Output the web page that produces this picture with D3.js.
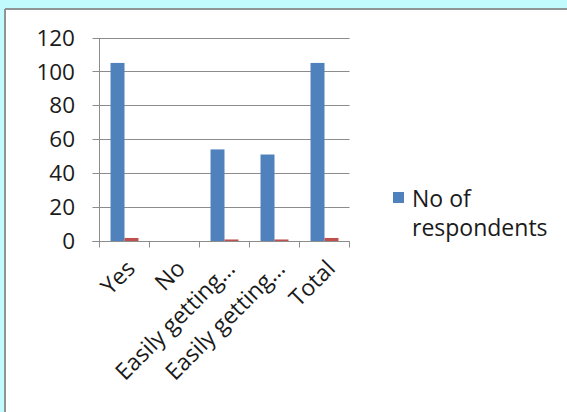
<!DOCTYPE html>
<html>
<head>
<meta charset="utf-8">
<script src="https://cdn.jsdelivr.net/npm/d3@7"></script>
<style>
  html, body { margin: 0; padding: 0; background: #c2fbfe; }
  svg { display: block; }
  text { font-family: "Open Sans", "Noto Sans", sans-serif; fill: #1a1a1a; }
</style>
</head>
<body>
<script>
// Survey responses: count of respondents per answer, plus a small second series
const categories = ["Yes", "No", "Easily getting\u2026", "Easily getting\u2026", "Total"];
const respondents = [105, 0, 54, 51, 105];
const secondSeries = [1.8, 0, 0.9, 0.9, 1.8];
const yTicks = [0, 20, 40, 60, 80, 100, 120];
const legendLabel = ["No of", "respondents"];

const W = 567, H = 412;
const svg = d3.select("body").append("svg").attr("width", W).attr("height", H);

// white panel with grey top/left frame
svg.append("rect").attr("x", 5).attr("y", 9).attr("width", W).attr("height", H)
  .attr("fill", "#ffffff");
svg.append("line").attr("x1", 5).attr("x2", W).attr("y1", 9).attr("y2", 9)
  .attr("stroke", "#8f9494").attr("stroke-width", 2);
svg.append("line").attr("x1", 5).attr("x2", 5).attr("y1", 9).attr("y2", H)
  .attr("stroke", "#8f9494").attr("stroke-width", 2);

const plot = { left: 99.5, right: 349.5, top: 37.5, bottom: 241 };

const x = d3.scaleBand().domain(d3.range(categories.length))
  .range([plot.left, plot.right]).paddingInner(0).paddingOuter(0);
const xSub = d3.scaleBand().domain([0, 1]).range([0, x.bandwidth()])
  .paddingOuter(0.79).paddingInner(0);
const y = d3.scaleLinear().domain([0, 120]).range([plot.bottom, plot.top]);

// horizontal gridlines
svg.append("g").selectAll("line").data(yTicks).join("line")
  .attr("x1", plot.left - 7).attr("x2", plot.right)
  .attr("y1", d => Math.round(y(d)) + 0.5).attr("y2", d => Math.round(y(d)) + 0.5)
  .attr("stroke", "#8c8c8c").attr("stroke-width", 1);

// y axis line
svg.append("line").attr("x1", plot.left).attr("x2", plot.left)
  .attr("y1", Math.round(y(120)) + 0.5).attr("y2", plot.bottom + 0.5)
  .attr("stroke", "#8c8c8c");

// y tick labels
svg.append("g").selectAll("text").data(yTicks).join("text")
  .attr("x", 75).attr("y", d => y(d))
  .attr("dy", "0.36em").attr("text-anchor", "end")
  .attr("font-size", 22.5).text(d => d);

// bars
const groups = svg.append("g").selectAll("g").data(categories).join("g")
  .attr("transform", (d, i) => `translate(${x(i)},0)`);
groups.append("rect")
  .attr("x", xSub(0)).attr("width", xSub.bandwidth())
  .attr("y", (d, i) => y(respondents[i]))
  .attr("height", (d, i) => y(0) - y(respondents[i]))
  .attr("fill", "#4f81bd");
groups.append("rect")
  .attr("x", xSub(1)).attr("width", xSub.bandwidth())
  .attr("y", (d, i) => y(secondSeries[i]))
  .attr("height", (d, i) => y(0) - y(secondSeries[i]))
  .attr("fill", "#c0504d");

// x axis line and category boundary ticks
const xa = Math.round(plot.bottom) + 0.5;
svg.append("line").attr("x1", plot.left - 7).attr("x2", plot.right)
  .attr("y1", xa).attr("y2", xa).attr("stroke", "#8c8c8c");
const bounds = d3.range(categories.length + 1).map(i => plot.left + i * x.bandwidth());
svg.append("g").selectAll("line").data(bounds).join("line")
  .attr("x1", d => d).attr("x2", d => d).attr("y1", xa).attr("y2", xa + 6)
  .attr("stroke", "#8c8c8c");

// rotated category labels
svg.append("g").selectAll("text").data(categories).join("text")
  .attr("transform", (d, i) => `translate(${x(i) + x.bandwidth() / 2 + 12},270) rotate(-45)`)
  .attr("text-anchor", "end").attr("font-size", 23).text(d => d);

// legend
svg.append("rect").attr("x", 393).attr("y", 192).attr("width", 11).attr("height", 11)
  .attr("fill", "#4f81bd");
svg.append("g").selectAll("text").data(legendLabel).join("text")
  .attr("x", 412).attr("y", (d, i) => 207 + i * 29)
  .attr("font-size", 23).text(d => d);
</script>
</body>
</html>
